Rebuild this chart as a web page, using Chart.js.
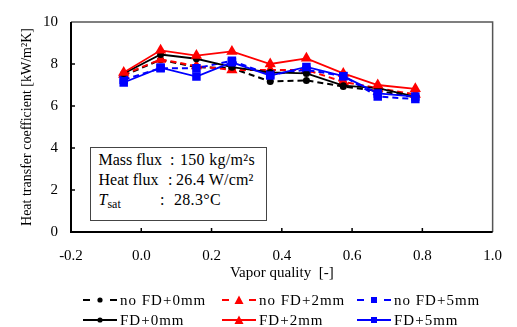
<!DOCTYPE html>
<html><head><meta charset="utf-8">
<script src="https://cdn.jsdelivr.net/npm/chart.js@4"></script>
<style>
body{margin:0;background:#fff;}
#wrap{position:relative;width:517px;height:327px;font-family:"Liberation Serif","Times New Roman",serif;color:#000;}
#c{position:absolute;left:0;top:0;}
.note{position:absolute;left:90px;top:147px;width:177px;height:74px;border:1.5px solid #444;box-sizing:border-box;background:#fff;}
.note span{position:absolute;font-size:16px;line-height:18px;white-space:nowrap;}
.lg{position:absolute;height:20px;display:flex;align-items:center;font-size:15px;letter-spacing:1px;white-space:nowrap;}
.lg svg{margin-right:3px;}
</style></head>
<body><div id="wrap">
<canvas id="c" width="517" height="327"></canvas>
<div class="note">
<span style="left:7.5px;top:3px">Mass flux</span>
<span style="left:79px;top:3px">:</span>
<span style="left:89px;top:3px;letter-spacing:0.3px">150 kg/m²s</span>
<span style="left:7.5px;top:23px">Heat flux</span>
<span style="left:77px;top:23px">:</span>
<span style="left:85px;top:23px;letter-spacing:0.2px">26.4 W/cm²</span>
<span style="left:7.5px;top:43px"><i>T</i><sub style="font-size:12px;vertical-align:-3px">sat</sub></span>
<span style="left:69px;top:43px">:</span>
<span style="left:83px;top:43px;letter-spacing:0.3px">28.3°C</span>
</div>
<div id="legend"></div>
</div>
<script>
const quality = [-0.05, 0.055, 0.157, 0.258, 0.367, 0.47, 0.575, 0.673, 0.78];
const noFD0 = [7.45, 8.2, 7.85, 7.8, 7.17, 7.22, 6.93, 6.72, 6.42];
const noFD2 = [7.5, 8.22, 7.9, 7.72, 7.72, 7.72, 7.15, 6.85, 6.55];
const noFD5 = [7.25, 7.8, 7.8, 8.15, 7.5, 7.72, 7.43, 6.45, 6.33];
const FD0 = [7.55, 8.45, 8.25, 7.85, 7.6, 7.55, 6.97, 6.85, 6.45];
const FD2 = [7.6, 8.65, 8.4, 8.6, 8.0, 8.27, 7.55, 7.0, 6.82];
const FD5 = [7.12, 7.83, 7.4, 8.08, 7.45, 7.86, 7.42, 6.6, 6.45];
const xTicks = [-0.2, 0.0, 0.2, 0.4, 0.6, 0.8, 1.0];
const yTicks = [0, 2, 4, 6, 8, 10];

const seriesDefs = [
  {label:'no FD+0mm', data:noFD0, color:'#000000', style:'circle', r:3.5, dash:true},
  {label:'no FD+2mm', data:noFD2, color:'#FF0000', style:'triangle', r:6.5, dash:true},
  {label:'no FD+5mm', data:noFD5, color:'#0000FF', style:'rect', r:6, dash:true},
  {label:'FD+0mm', data:FD0, color:'#000000', style:'circle', r:3.5, dash:false},
  {label:'FD+2mm', data:FD2, color:'#FF0000', style:'triangle', r:6.5, dash:false},
  {label:'FD+5mm', data:FD5, color:'#0000FF', style:'rect', r:6, dash:false}
];

const datasets = seriesDefs.map((s,i)=>({
  label:s.label,
  data:quality.map((x,j)=>({x:x,y:s.data[j]})),
  borderColor:s.color, backgroundColor:s.color,
  borderWidth: s.dash ? 2 : 1.8,
  borderDash: s.dash ? [6,4] : [],
  pointStyle:s.style, pointRadius:s.r, pointBorderWidth:0,
  showLine:true, tension:0, order: 6-i
}));

const frame = {
  id:'frame',
  afterDatasetsDraw(chart){
    const {ctx, chartArea:a, scales:{x,y}} = chart;
    ctx.save();
    ctx.strokeStyle='#555'; ctx.lineWidth=1.5;
    ctx.beginPath(); ctx.moveTo(a.left,a.top); ctx.lineTo(a.right,a.top); ctx.lineTo(a.right,a.bottom); ctx.stroke();
    ctx.strokeStyle='#000'; ctx.lineWidth=2;
    ctx.beginPath(); ctx.moveTo(a.left,a.top); ctx.lineTo(a.left,a.bottom); ctx.lineTo(a.right,a.bottom); ctx.stroke();
    ctx.lineWidth=1.5;
    xTicks.forEach(v=>{ if(v<=-0.2||v>=1.0) return; const px=x.getPixelForValue(v); ctx.beginPath(); ctx.moveTo(px,a.bottom); ctx.lineTo(px,a.bottom-4); ctx.stroke();});
    yTicks.forEach(v=>{ if(v<=0||v>=10) return; const py=y.getPixelForValue(v); ctx.beginPath(); ctx.moveTo(a.left,py); ctx.lineTo(a.left+4,py); ctx.stroke();});
    ctx.restore();
  }
};

const font = "'Liberation Serif','Times New Roman',serif";
new Chart(document.getElementById('c'), {
  type:'scatter',
  data:{datasets},
  plugins:[frame],
  options:{
    responsive:false, animation:false, devicePixelRatio:1,
    layout:{padding:{top:15,right:20,bottom:45,left:0}},
    plugins:{legend:{display:false}, tooltip:{enabled:false}},
    scales:{
      x:{type:'linear', min:-0.2, max:1.0,
        afterBuildTicks:s=>{s.ticks=xTicks.map(v=>({value:v}));},
        afterFit:s=>{s.height=50;},
        grid:{display:false, drawTicks:false}, border:{display:false},
        ticks:{padding:15, color:'#000', font:{family:font,size:15}, callback:v=>Number(v).toFixed(1)},
        title:{display:true, text:'Vapor quality  [-]', color:'#000', font:{family:font,size:15}, padding:{top:0,bottom:0}}
      },
      y:{type:'linear', min:0, max:10,
        afterBuildTicks:s=>{s.ticks=yTicks.map(v=>({value:v}));},
        afterFit:s=>{s.width=71;},
        grid:{display:false, drawTicks:false}, border:{display:false},
        ticks:{padding:13, color:'#000', font:{family:font,size:15}},
        title:{display:true, text:'Heat transfer coefficient [kW/m²K]', color:'#000', font:{family:font,size:14}, padding:{top:19,bottom:0}}
      }
    }
  }
});

// HTML legend
const legPos = [[83,290],[222,290],[357,290],[83,310],[222,310],[357,310]];
function markerSvg(s){
  let m='';
  if(s.style==='circle') m='<circle cx="17" cy="5" r="2.6" fill="'+s.color+'"/>';
  else if(s.style==='triangle') m='<polygon points="17,0.5 21.5,9 12.5,9" fill="'+s.color+'"/>';
  else m='<rect x="14" y="2" width="6" height="6" fill="'+s.color+'"/>';
  const line = s.dash
    ? '<line x1="0" y1="5" x2="7" y2="5" stroke="'+s.color+'" stroke-width="2"/><line x1="27" y1="5" x2="34" y2="5" stroke="'+s.color+'" stroke-width="2"/>'
    : '<line x1="0" y1="5" x2="34" y2="5" stroke="'+s.color+'" stroke-width="2"/>';
  return '<svg width="34" height="10" viewBox="0 0 34 10">'+line+m+'</svg>';
}
const leg = document.getElementById('legend');
seriesDefs.forEach((s,i)=>{
  const d=document.createElement('div');
  d.className='lg';
  d.style.left=legPos[i][0]+'px'; d.style.top=legPos[i][1]+'px';
  d.innerHTML=markerSvg(s)+'<span>'+s.label+'</span>';
  leg.appendChild(d);
});
</script>
</body></html>
